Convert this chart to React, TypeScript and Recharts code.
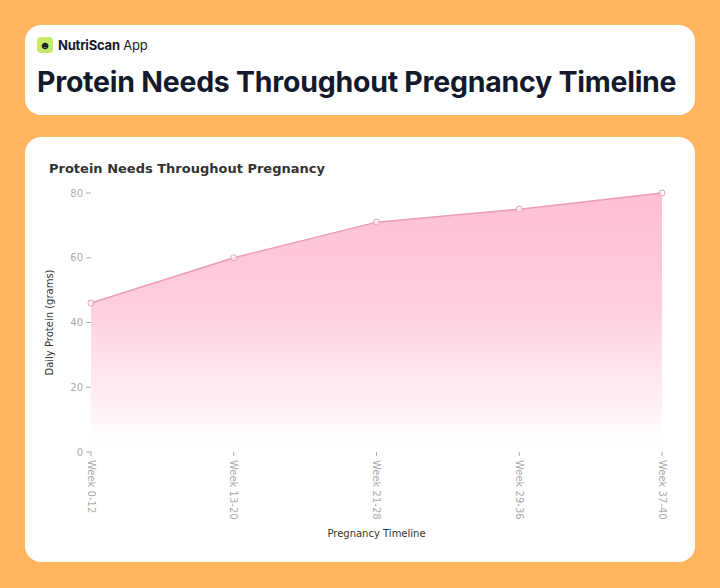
import React from "react";
import { AreaChart, Area, XAxis, YAxis, Label } from "recharts";

const stages = ["Week 0-12", "Week 13-20", "Week 21-28", "Week 29-36", "Week 37-40"];
const proteinGrams = [46, 60, 71, 75, 80];
const yTicks = [0, 20, 40, 60, 80];

const data = stages.map((stage, i) => ({ stage, protein: proteinGrams[i] }));

const tickStyle = { fontSize: 10, fill: "#aaaaaa", fontFamily: "DejaVu Sans" };

export default function App() {
  return (
    <div
      style={{
        position: "fixed",
        left: 0,
        top: 0,
        width: 720,
        height: 588,
        background: "#ffb45e",
      }}
    >
      <div
        style={{
          position: "absolute",
          left: 25,
          top: 25,
          width: 670,
          height: 90,
          background: "#fff",
          borderRadius: 16,
          fontFamily: "Inter",
        }}
      >
        <div style={{ position: "absolute", left: 12, top: 12, display: "flex", alignItems: "center" }}>
          <div
            style={{
              width: 16,
              height: 16,
              borderRadius: 4,
              background: "#c5ea6a",
              display: "flex",
              alignItems: "center",
              justifyContent: "center",
              fontSize: 11,
              color: "#141a2e",
            }}
          >
            ☻
          </div>
          <span style={{ marginLeft: 5, fontSize: 13, color: "#141a2e", letterSpacing: -0.2 }}>
            <b>NutriScan</b> App
          </span>
        </div>
        <div
          style={{
            position: "absolute",
            left: 12,
            top: 39,
            fontSize: 28.5,
            fontWeight: 700,
            color: "#141a2e",
            letterSpacing: -0.25,
            whiteSpace: "nowrap",
          }}
        >
          Protein Needs Throughout Pregnancy Timeline
        </div>
      </div>
      <div
        style={{
          position: "absolute",
          left: 25,
          top: 137,
          width: 670,
          height: 425,
          background: "#fff",
          borderRadius: 16,
        }}
      >
        <div
          style={{
            position: "absolute",
            left: 24,
            top: 24,
            fontFamily: "DejaVu Sans",
            fontWeight: 700,
            fontSize: 13,
            color: "#333",
          }}
        >
          Protein Needs Throughout Pregnancy
        </div>
        <div style={{ position: "absolute", left: 0, top: 0 }}>
          <AreaChart
            width={670}
            height={425}
            data={data}
            margin={{ top: 56, right: 33, left: 6, bottom: 20 }}
          >
            <defs>
              <linearGradient id="proteinFill" x1="0" y1="0" x2="0" y2="1">
                <stop offset="0%" stopColor="#ff94b8" stopOpacity={1} />
                <stop offset="45%" stopColor="#ff94b8" stopOpacity={0.75} />
                <stop offset="95%" stopColor="#ff94b8" stopOpacity={0.02} />
              </linearGradient>
            </defs>
            <XAxis
              dataKey="stage"
              height={90}
              axisLine={false}
              tickLine={{ stroke: "#aaaaaa" }}
              tickSize={4}
              interval={0}
              tick={(props: any) => (
                <text
                  x={props.x}
                  y={props.y}
                  transform={`rotate(90, ${props.x}, ${props.y})`}
                  dx={2}
                  dy={3.5}
                  textAnchor="start"
                  style={tickStyle}
                >
                  {props.payload.value}
                </text>
              )}
            >
              <Label
                value="Pregnancy Timeline"
                position="insideBottom"
                offset={5}
                style={{ fontSize: 10, fill: "#333", fontFamily: "DejaVu Sans" }}
              />
            </XAxis>
            <YAxis
              width={60}
              domain={[0, 80]}
              ticks={yTicks}
              axisLine={false}
              tickLine={{ stroke: "#aaaaaa" }}
              tickSize={5}
              tickMargin={3}
              tick={tickStyle}
            >
              <Label
                value="Daily Protein (grams)"
                angle={-90}
                position="insideLeft"
                offset={18}
                style={{ fontSize: 10, fill: "#333", fontFamily: "DejaVu Sans", textAnchor: "middle" }}
              />
            </YAxis>
            <Area
              type="linear"
              dataKey="protein"
              stroke="#eb9db8"
              strokeWidth={1.5}
              fill="url(#proteinFill)"
              dot={{ r: 3, fill: "#fff", stroke: "#e0a0b6", strokeWidth: 1 }}
              isAnimationActive={false}
            />
          </AreaChart>
        </div>
      </div>
    </div>
  );
}
